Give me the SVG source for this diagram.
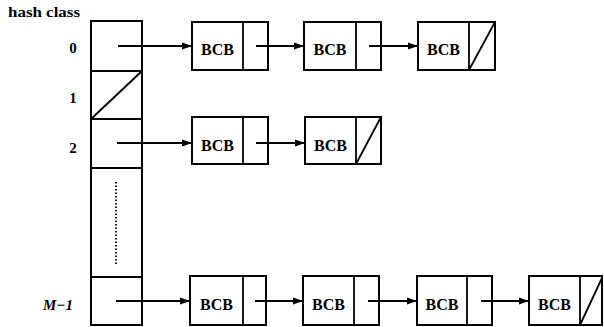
<svg xmlns="http://www.w3.org/2000/svg" width="604" height="327" viewBox="0 0 604 327">
<style>
.b{fill:none;stroke:#000;stroke-width:2}
.l{fill:none;stroke:#000;stroke-width:1.8}
.c{stroke:#000;stroke-width:1.8;fill:none;marker-end:url(#ah)}
.t{font-family:"Liberation Serif","DejaVu Serif","Times New Roman",serif;font-weight:bold;font-size:16px;fill:#000}
.lab{font-family:"Liberation Serif","DejaVu Serif","Times New Roman",serif;font-weight:bold;font-size:15px;fill:#000}
</style>
<defs>
<marker id="ah" markerWidth="10" markerHeight="8" refX="10" refY="4" orient="auto" markerUnits="userSpaceOnUse">
<path d="M0,0.5 L10,4 L0,7.5 z" fill="#000"/>
</marker>
</defs>
<rect width="604" height="327" fill="#fff"/>
<g id="labels">
<text class="lab" x="8" y="17" textLength="72" lengthAdjust="spacingAndGlyphs">hash class</text>
<text class="lab" x="73" y="53" text-anchor="middle">0</text>
<text class="lab" x="73" y="103" text-anchor="middle">1</text>
<text class="lab" x="73" y="153" text-anchor="middle">2</text>
<text class="lab" x="58" y="310" text-anchor="middle" font-style="italic">M−1</text>
</g>
<g id="hash-table">
<rect class="b" x="91" y="21" width="51" height="304"/>
<line class="l" x1="91" y1="71" x2="142" y2="71"/>
<line class="l" x1="91" y1="119" x2="142" y2="119"/>
<line class="l" x1="91" y1="168" x2="142" y2="168"/>
<line class="l" x1="91" y1="277" x2="142" y2="277"/>
<line class="l" x1="91" y1="119" x2="142" y2="71"/>
<line x1="116" y1="182" x2="116" y2="266" stroke="#000" stroke-width="1.8" stroke-dasharray="1.5,2"/>
</g>
<g id="r0b1"><rect class="b" x="192" y="22" width="76" height="48"/><line class="l" x1="243" y1="22" x2="243" y2="70"/><text class="t" x="217.5" y="55" text-anchor="middle">BCB</text></g>
<g id="r0b2"><rect class="b" x="304" y="22" width="77" height="48"/><line class="l" x1="356" y1="22" x2="356" y2="70"/><text class="t" x="330" y="55" text-anchor="middle">BCB</text></g>
<g id="r0b3"><rect class="b" x="418" y="22" width="77" height="48"/><line class="l" x1="469" y1="22" x2="469" y2="70"/><line class="l" x1="469" y1="70" x2="495" y2="22"/><text class="t" x="443.5" y="55" text-anchor="middle">BCB</text></g>
<g id="r2b1"><rect class="b" x="192" y="117" width="76" height="47"/><line class="l" x1="243" y1="117" x2="243" y2="164"/><text class="t" x="217.5" y="151" text-anchor="middle">BCB</text></g>
<g id="r2b2"><rect class="b" x="305" y="117" width="76" height="47"/><line class="l" x1="356" y1="117" x2="356" y2="164"/><line class="l" x1="356" y1="164" x2="381" y2="117"/><text class="t" x="330.5" y="151" text-anchor="middle">BCB</text></g>
<g id="r3b1"><rect class="b" x="190" y="276" width="76" height="49"/><line class="l" x1="243" y1="276" x2="243" y2="325"/><text class="t" x="216.5" y="310" text-anchor="middle">BCB</text></g>
<g id="r3b2"><rect class="b" x="303" y="276" width="76" height="49"/><line class="l" x1="354" y1="276" x2="354" y2="325"/><text class="t" x="328.5" y="310" text-anchor="middle">BCB</text></g>
<g id="r3b3"><rect class="b" x="417" y="276" width="75" height="49"/><line class="l" x1="467" y1="276" x2="467" y2="325"/><text class="t" x="442" y="310" text-anchor="middle">BCB</text></g>
<g id="r3b4"><rect class="b" x="529" y="276" width="73" height="49"/><line class="l" x1="580" y1="276" x2="580" y2="325"/><line class="l" x1="580" y1="325" x2="602" y2="278"/><text class="t" x="554.5" y="310" text-anchor="middle">BCB</text></g>
<g id="connectors">
<line class="c" x1="118" y1="46" x2="192" y2="46"/>
<line class="c" x1="256" y1="46" x2="304" y2="46"/>
<line class="c" x1="369" y1="46" x2="418" y2="46"/>
<line class="c" x1="117" y1="143" x2="192" y2="143"/>
<line class="c" x1="256" y1="143" x2="305" y2="143"/>
<line class="c" x1="116" y1="301" x2="190" y2="301"/>
<line class="c" x1="255" y1="301" x2="303" y2="301"/>
<line class="c" x1="368" y1="301" x2="417" y2="301"/>
<line class="c" x1="481" y1="301" x2="529" y2="301"/>
</g>
</svg>
